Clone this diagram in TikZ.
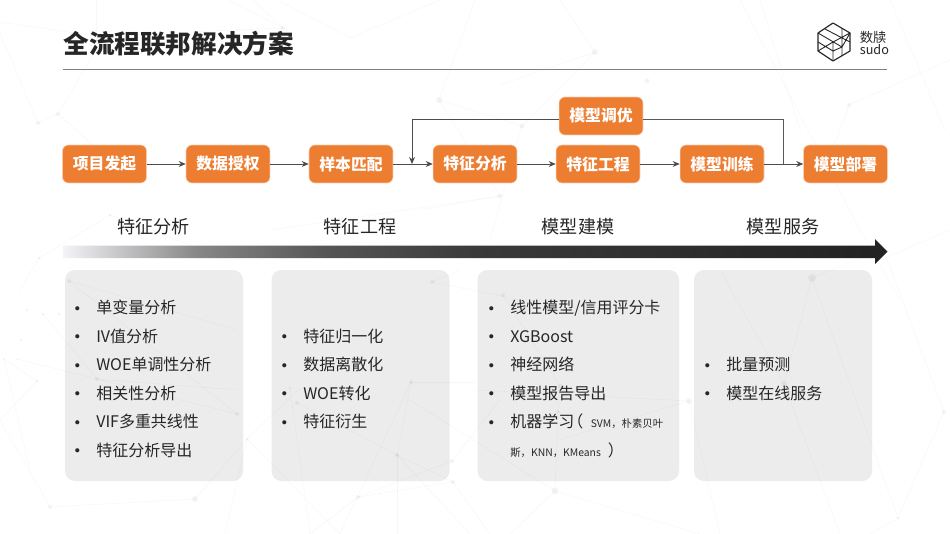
\documentclass[tikz,border=0pt]{standalone}
\usepackage{fontspec}
\setmainfont{Noto Sans CJK SC}
\newfontfamily\heavyfont{Noto Sans CJK SC Black}
\usetikzlibrary{shapes, arrows.meta, positioning, calc}
\definecolor{boxorange}{HTML}{ED7D31}
\definecolor{cardgray}{HTML}{ECECEC}
\definecolor{inkdark}{HTML}{262626}
\definecolor{barlight}{HTML}{F4F4F8}
\definecolor{barmid}{HTML}{888888}
\definecolor{bardim}{HTML}{555555}
\definecolor{bardark}{HTML}{3A3A3A}
\definecolor{barend}{HTML}{222222}
\pgfdeclarehorizontalshading{barfade}{100bp}{color(0bp)=(barlight); color(25bp)=(barlight); color(33bp)=(barmid); color(41bp)=(bardim); color(50bp)=(bardark); color(75bp)=(barend); color(100bp)=(barend)}
\newcommand{\itemdot}{\makebox[12.1pt][l]{\raisebox{2pt}{\fontsize{2.6}{3}\selectfont ●}}}

\begin{document}
\begin{tikzpicture}[
			x=0.02cm, y=-0.02cm,
			stage/.style={rectangle, rounded corners=0.12cm, draw=boxorange!40, line width=0.3pt, fill=boxorange, minimum width=1.68cm, minimum height=0.76cm, align=center, text=white, font=\fontsize{9}{11}\selectfont\bfseries, inner sep=0pt},
			arrow/.style={-{Stealth[length=4pt, width=3.4pt]}, draw=black!70, line width=0.5pt},
			loopline/.style={draw=black!65, line width=0.5pt},
			card/.style={fill=cardgray, rounded corners=0.2cm},
			phase/.style={text=inkdark, font=\fontsize{10.3}{12}\selectfont, inner sep=0pt},
			listitem/.style={anchor=west, text=inkdark, font=\fontsize{9.1}{11}\selectfont, inner sep=0pt, text height=8pt, text depth=2pt},
			web/.style={draw=black, opacity=0.03, line width=0.3pt},
			webdot/.style={fill=black, opacity=0.045}
			]
			\useasboundingbox (0,0) rectangle (950,534);
			\fill[white] (0,0) rectangle (950,534);
			
			% cards
			\fill[card] (65,270) rectangle (243,481);
			\fill[card] (271.5,270) rectangle (449.5,481);
			\fill[card] (477.5,270) rectangle (679,481);
			\fill[card] (694,270) rectangle (872,481);
			
			% background web
			\foreach \xa/\ya/\xb/\yb in {0/33/38/123, 38/123/58/114, 58/114/96/50, 96/0/96/43, 0/22/96/36, 96/36/283/28, 228/0/283/28, 253/0/283/28, 278/0/350/38, 350/38/440/0, 58/114/110/160, 439/100/522/126, 439/100/500/196, 439/100/475/0, 522/126/595/52, 595/52/560/0, 595/52/500/85, 522/126/490/240, 500/196/420/210, 110/215/39/258, 39/258/20/290, 110/215/230/260, 270/230/500/196, 849/105/950/60, 849/105/825/170, 740/0/860/230, 760/0/800/130, 890/0/945/130, 860/230/900/300, 880/260/950/230, 4/359/37/381, 4/359/30/470, 37/381/0/420, 17/359/237/414, 43/314/97/379, 69/281/237/330, 97/379/237/390, 237/414/69/281, 247/439/300/388, 247/439/195/499, 247/439/225/534, 195/499/50/507, 50/507/0/420, 247/439/340/534, 297/403/397/455, 290/388/310/534, 411/382/397/455, 411/382/340/534, 411/382/475/382, 397/455/453/482, 397/455/397/534, 397/455/470/534, 358/497/453/482, 358/497/452/461, 358/497/310/534, 453/482/490/534, 452/461/500/400, 432/282/460/270, 432/282/520/300, 503/295/560/386, 560/386/558/412, 558/412/555/491, 555/491/700/534, 555/491/510/534, 689/401/558/440, 689/401/475/390, 812/278/880/250, 812/278/784/384, 784/384/720/270, 784/384/840/534, 812/278/898/518, 898/518/944/412, 944/412/880/240, 898/518/870/534, 689/401/720/534, 555/491/410/400}
				\draw[web] (\xa,\ya) -- (\xb,\yb);
			\foreach \xa/\ya/\rad in {38/123/2, 58/114/2, 283/28/2, 439/100/3, 595/52/3, 647/81/2.5, 522/126/2.5, 500/196/2.5, 849/105/2, 110/215/1.5, 39/258/1.5, 69/281/2, 43/314/1.5, 59/314/1.5, 27/310/1.5, 21/340/1.5, 4/359/1, 17/359/1, 37/381/1.5, 97/379/2, 237/414/2, 247/439/1.5, 195/499/3, 50/507/2, 297/403/2, 290/388/1.5, 411/382/2, 397/455/2, 452/461/2, 453/482/2, 358/497/2, 432/282/2, 503/295/2, 560/386/2.5, 558/412/2, 555/491/3.5, 689/401/3, 812/278/4, 784/384/3, 944/412/2, 898/518/1.5}
				\fill[webdot] (\xa,\ya) circle (\rad);
			
			% title and logo
			\node[anchor=west, inner sep=0pt, text=inkdark, font=\fontsize{14.6}{17}\heavyfont] (title) at (63,44) {全流程联邦解决方案};
			\coordinate (ruleend) at (887,69);
			\draw[draw=black!50, line width=0.55pt] (63,69) -- (ruleend);
			\draw[inkdark, line width=0.65pt, line join=round] (833,23) -- (850,33) -- (850,51) -- (833,61) -- (818,51) -- (818,33) -- cycle;
			\draw[inkdark, line width=0.5pt] (818,33) -- (842,47) -- (850,33) (825,29) -- (850,42) (842,28) -- (842,56) (833,42) -- (850,33) (818,51) -- (833,42) (818,42) -- (833,51) -- (842,47) (833,42) -- (833,61);
			\node[anchor=west, inner sep=0pt, text=inkdark, font=\fontsize{7.6}{9}\selectfont] (logoname) at (859.5,37) {数牍};
			\node[anchor=west, inner sep=0pt, text=inkdark, font=\fontsize{7.2}{9}\selectfont] (logosudo) at (859.5,50) {sudo};
			
			% flow
			\node[stage] (start) at (104.5,164) {项目发起};
			\node[stage] (grant) at (228,164) {数据授权};
			\node[stage] (align) at (351,164) {样本匹配};
			\node[stage] (fanal) at (475,164) {特征分析};
			\node[stage] (fengr) at (598,164) {特征工程};
			\node[stage] (train) at (722,164) {模型训练};
			\node[stage] (deploy) at (845.5,164) {模型部署};
			\node[stage] (tune) at (601,116) {模型调优};
			
			\draw[arrow] (start) -- (grant);
			\draw[arrow] (grant) -- (align);
			\draw[arrow] (align) -- (fanal);
			\draw[arrow] (fanal) -- (fengr);
			\draw[arrow] (fengr) -- (train);
			\draw[arrow] (train) -- (deploy);
			
			\coordinate (loopleft) at (412,119);
			\coordinate (loopin) at (412,164);
			\coordinate (loopright) at (783,119);
			\coordinate (loopout) at (783,164);
			\draw[arrow] (tune.west |- loopleft) -- (loopleft) -- (loopin);
			\draw[loopline] (tune.east |- loopright) -- (loopright) -- (loopout);
			
			% phases
			\node[phase] (phasea) at (153.5,227) {特征分析};
			\node[phase] (phaseb) at (360,227) {特征工程};
			\node[phase] (phasec) at (578,227) {模型建模};
			\node[phase] (phased) at (783,227) {模型服务};
			\shade[shading=barfade] (63,245.5) -- (875,245.5) -- (875,239) -- (887.5,251.7) -- (875,264) -- (875,258) -- (63,258) -- cycle;
			
			% lists
			\node[listitem] (a1) at (74.7,308.5) {\itemdot 单变量分析};
			\node[listitem] (a2) at (74.7,337) {\itemdot IV值分析};
			\node[listitem] (a3) at (74.7,365.5) {\itemdot WOE单调性分析};
			\node[listitem] (a4) at (74.7,394) {\itemdot 相关性分析};
			\node[listitem] (a5) at (74.7,422.5) {\itemdot VIF多重共线性};
			\node[listitem] (a6) at (74.7,451) {\itemdot 特征分析导出};
			
			\node[listitem] (b1) at (281.7,337) {\itemdot 特征归一化};
			\node[listitem] (b2) at (281.7,365.5) {\itemdot 数据离散化};
			\node[listitem] (b3) at (281.7,394) {\itemdot WOE转化};
			\node[listitem] (b4) at (281.7,422.5) {\itemdot 特征衍生};
			
			\node[listitem] (c1) at (488.7,308.5) {\itemdot 线性模型/信用评分卡};
			\node[listitem] (c2) at (488.7,337) {\itemdot XGBoost};
			\node[listitem] (c3) at (488.7,365.5) {\itemdot 神经网络};
			\node[listitem] (c4) at (488.7,394) {\itemdot 模型报告导出};
			\node[listitem] (c5) at (488.7,422.5) {\itemdot 机器学习\hspace{-4pt}（\hspace{4.3pt}{\fontsize{5.9}{7}\selectfont SVM，朴素贝叶}};
			\node[listitem] (c6) at (510,451) {{\fontsize{5.9}{7}\selectfont 斯，KNN，KMeans}\hspace{4pt}）};
			
			\node[listitem] (d1) at (704.7,365.5) {\itemdot 批量预测};
			\node[listitem] (d2) at (704.7,394) {\itemdot 模型在线服务};
		\end{tikzpicture}
\end{document}
